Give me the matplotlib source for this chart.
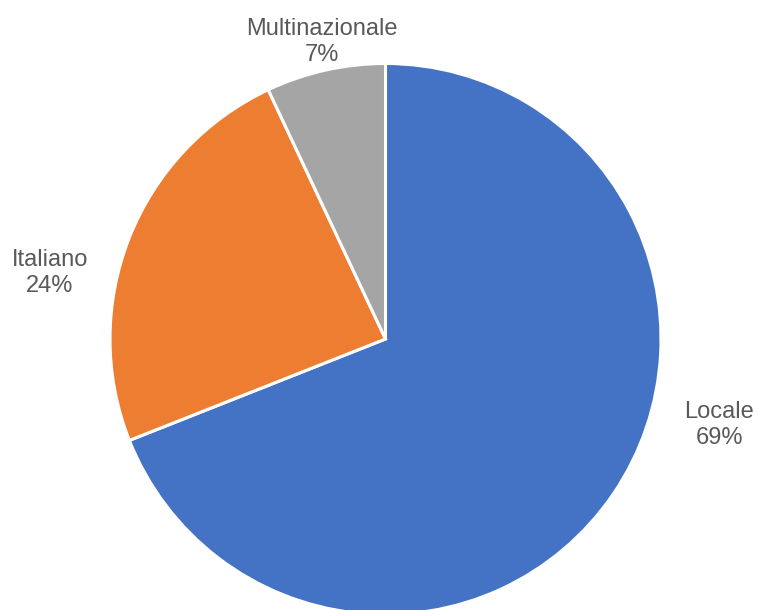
import matplotlib
matplotlib.use("Agg")
import matplotlib.pyplot as plt

categories = ["Locale", "Italiano", "Multinazionale"]
values = [69, 24, 7]
colors = ["#4472C4", "#ED7D31", "#A5A5A5"]

W, H = 758, 610
cx, cy, R = 385.5, 339.0, 275.5

fig = plt.figure(figsize=(W / 100, H / 100), dpi=100)
ax = fig.add_axes([0, 0, 1, 1])
ax.pie(values, colors=colors, startangle=90, counterclock=False, radius=1,
       wedgeprops=dict(edgecolor="white", linewidth=2.2))
ax.set_xlim(-cx / R, (W - cx) / R)
ax.set_ylim(-(H - cy) / R, cy / R)
ax.set_aspect("equal")
ax.axis("off")

label_px = {"Locale": (719.5, 425), "Italiano": (50, 273), "Multinazionale": (322, 42)}
total = sum(values)
for cat, v in zip(categories, values):
    px, py = label_px[cat]
    ax.text((px - cx) / R, (cy - py) / R, f"{cat}\n{round(100 * v / total)}%",
            ha="center", va="center", fontsize=17, color="#595959",
            family=["Liberation Sans", "DejaVu Sans"], linespacing=1.2)

fig.savefig("out.png", dpi=100)
